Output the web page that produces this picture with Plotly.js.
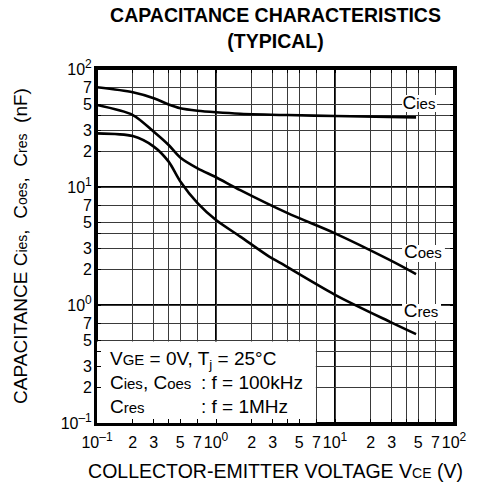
<!DOCTYPE html>
<html>
<head>
<meta charset="utf-8">
<script src="https://cdn.plot.ly/plotly-3.0.1.min.js"></script>
<style>html,body{margin:0;padding:0;background:#fff;}#chart{width:477px;height:497px;}</style>
</head>
<body>
<div id="chart"></div>
<script>
// Collector-emitter voltage VCE (V) and capacitance (nF)
const ciesX = [0.1, 0.2, 0.3, 0.4, 0.5, 0.7, 1, 1.6, 4, 10, 48];
const ciesY = [70, 63.5, 56.5, 50, 46.5, 44.3, 43, 41.8, 40.7, 40, 38.9];
const coesX = [0.1, 0.2, 0.3, 0.4, 0.5, 0.7, 1, 1.6, 4, 10, 29, 48];
const coesY = [49.5, 40.7, 29.4, 22.7, 17.8, 14.4, 12.1, 9.4, 6.0, 4.05, 2.4, 1.83];
const cresX = [0.1, 0.2, 0.3, 0.4, 0.5, 0.7, 1, 1.6, 2.8, 3.5, 10, 29, 48];
const cresY = [28.5, 27, 22, 16.4, 11.2, 7.3, 5.25, 3.8, 2.57, 2.26, 1.22, 0.72, 0.567];

const sup = s => '<sup><span style="font-size:12px">' + s + '</span></sup>';
const tickVals = [0.1,0.2,0.3,0.4,0.5,0.7,1,2,3,4,5,7,10,20,30,40,50,70,100];
const tickText = ['10' + sup('–1'),'2','3','','5','7','10' + sup('0'),'2','3','','5','7','10' + sup('1'),'2','3','','5','7','10' + sup('2')];
const decades = [0.1, 1, 10, 100];

const FONT = 'Liberation Sans, Arial, sans-serif';
const sub = (s, px) => '<span style="font-size:' + (px || 14) + 'px">' + s + '</span>';

// curve labels and condition notes (text, anchor position in data units)
const labelText = ['C' + sub('ies', 15), 'C' + sub('oes', 15), 'C' + sub('res', 15)];
const labelX = [50.8, 54.8, 52.8];
const labelY = [50.5, 2.76, 0.873];
const labelBoxX0 = [36.6, 36.6, 36.6];
const labelBoxX1 = [71.9, 83.9, 77.8];
const labelBoxY0 = [43.2, 2.31, 0.731];
const labelBoxY1 = [60.2, 3.22, 1.02];
const noteText = ['V' + sub('GE', 15) + ' = 0V, T<sub>j</sub> = 25°C', 'C' + sub('ies', 15) + ', C' + sub('oes', 15), ': f = 100kHz', 'C' + sub('res', 15), ': f = 1MHz'];
const noteX = [0.1285, 0.1285, 0.748, 0.1285, 0.748];
const noteY = [0.342, 0.214, 0.214, 0.134, 0.134];

const curveLine = () => ({color: '#000', width: 2.6, shape: 'spline', smoothing: 0.8});
const traces = [
  {x: ciesX, y: ciesY, mode: 'lines', line: curveLine(), name: 'Cies', hoverinfo: 'skip'},
  {x: coesX, y: coesY, mode: 'lines', line: curveLine(), name: 'Coes', hoverinfo: 'skip'},
  {x: cresX, y: cresY, mode: 'lines', line: curveLine(), name: 'Cres', hoverinfo: 'skip'},
  {x: labelX, y: labelY, text: labelText, mode: 'text', textposition: 'middle center', textfont: {family: FONT, size: 19, color: '#000'}, hoverinfo: 'skip', cliponaxis: false},
  {x: noteX, y: noteY, text: noteText, mode: 'text', textposition: 'middle right', textfont: {family: FONT, size: 19, color: '#000'}, hoverinfo: 'skip', cliponaxis: false}
];

const shapes = [];
decades.forEach(d => {
  shapes.push({type: 'line', xref: 'x', yref: 'paper', x0: d, x1: d, y0: 0, y1: 1, layer: 'between', line: {color: '#000', width: 2}});
  shapes.push({type: 'line', xref: 'paper', yref: 'y', x0: 0, x1: 1, y0: d, y1: d, layer: 'between', line: {color: '#000', width: 2}});
});
shapes.push({type: 'rect', xref: 'x', yref: 'y', x0: 0.1, x1: 6.9, y0: 0.1, y1: 0.49, layer: 'between', fillcolor: '#fff', line: {width: 0}});
for (let i = 0; i < labelText.length; i++) {
  shapes.push({type: 'rect', xref: 'x', yref: 'y', x0: labelBoxX0[i], x1: labelBoxX1[i], y0: labelBoxY0[i], y1: labelBoxY1[i], layer: 'between', fillcolor: '#fff', line: {width: 0}});
}

const axisCommon = {
  type: 'log',
  tickmode: 'array',
  tickangle: 0,
  showgrid: true, gridcolor: '#3a3a3a', gridwidth: 1.3,
  zeroline: false,
  showline: true, linecolor: '#000', linewidth: 3, mirror: 'ticks',
  ticks: 'inside', ticklen: 4, tickwidth: 1.3, tickcolor: '#000',
  tickfont: {family: FONT, size: 16, color: '#000'},
  fixedrange: true
};

const layout = {
  width: 477, height: 497,
  margin: {l: 97, r: 23, t: 69, b: 74},
  paper_bgcolor: '#fff', plot_bgcolor: '#fff',
  showlegend: false,
  hovermode: false,
  title: {
    text: '<b>CAPACITANCE CHARACTERISTICS<br>(TYPICAL)</b>',
    font: {family: FONT, size: 19.5, color: '#000'},
    xref: 'paper', x: 0.5, xanchor: 'center',
    yref: 'container', y: 0.955, yanchor: 'top'
  },
  xaxis: Object.assign({}, axisCommon, {
    range: [-1, 2], tickvals: tickVals, ticktext: tickText, ticklabelstandoff: 3,
    title: {text: 'COLLECTOR-EMITTER VOLTAGE V' + sub('CE', 14) + ' (V)', font: {family: FONT, size: 19.5, color: '#000'}, standoff: 15}
  }),
  yaxis: Object.assign({}, axisCommon, {
    range: [-1, 2], tickvals: tickVals, ticktext: tickText, ticklabelstandoff: -1,
    title: {text: 'CAPACITANCE C' + sub('ies') + ',  C' + sub('oes') + ',  C' + sub('res') + '  (nF)', font: {family: FONT, size: 19, color: '#000'}, standoff: 28}
  }),
  shapes: shapes
};

Plotly.newPlot('chart', traces, layout, {displayModeBar: false, responsive: false});
</script>
</body>
</html>
